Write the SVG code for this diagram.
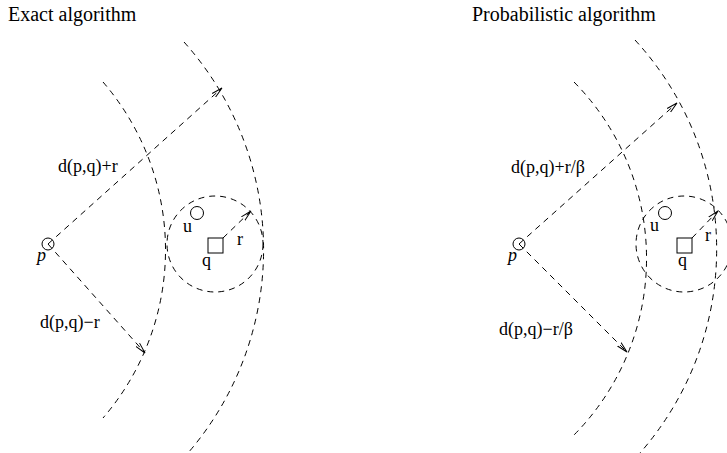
<svg xmlns="http://www.w3.org/2000/svg" width="727" height="453" viewBox="0 0 727 453">
<defs>
<style>
.t{font-family:"Liberation Serif","Times New Roman",serif;font-size:20px;fill:#000}
.l{font-family:"Liberation Serif","Times New Roman",serif;font-size:18px;fill:#000}
.d{fill:none;stroke:#000;stroke-width:1;stroke-dasharray:6 5}
.s{fill:none;stroke:#000;stroke-width:1}
</style>
<marker id="ah" markerWidth="12" markerHeight="8" refX="11" refY="4" orient="auto" markerUnits="userSpaceOnUse">
<path d="M0,1.5 L11,4 L0,6.5" fill="none" stroke="#000" stroke-width="1"/>
</marker>
</defs>
<rect width="727" height="453" fill="#fff"/>
<text class="t" x="8" y="21">Exact algorithm</text>
<text class="t" x="472" y="21">Probabilistic algorithm</text>
<g id="connectors">
<path class="d" d="M103,82 A257,257 0 0 1 103,418"/>
<path class="d" d="M184,42 A311,311 0 0 1 188,453"/>
<path class="d" d="M48,244 L222,88" marker-end="url(#ah)"/>
<path class="d" d="M48,244 L145,353" marker-end="url(#ah)"/>
<path class="d" d="M574,82 A251,251 0 0 1 574,435"/>
<path class="d" d="M635,40 A309,309 0 0 1 640,453"/>
<path class="d" d="M519,244 L677,103" marker-end="url(#ah)"/>
<path class="d" d="M519,244 L627,352" marker-end="url(#ah)"/>
</g>
<g id="left-p">
<circle class="s" cx="48" cy="244" r="6"/>
<text class="l" x="37" y="261" font-style="italic">p</text>
</g>
<g id="left-q">
<circle class="d" cx="215" cy="244" r="48"/>
<rect class="s" x="208" y="238" width="15" height="15"/>
<path class="d" d="M223,238 L251,211" marker-end="url(#ah)"/>
<text class="l" x="202" y="266">q</text>
<text class="l" x="237" y="245">r</text>
</g>
<g id="left-u">
<circle class="s" cx="197" cy="213" r="6.5"/>
<text class="l" x="183" y="232">u</text>
</g>
<g id="left-labels">
<text class="l" x="58" y="172">d(p,q)+r</text>
<text class="l" x="40" y="328">d(p,q)−r</text>
</g>
<g id="right-p">
<circle class="s" cx="519" cy="244" r="6"/>
<text class="l" x="508" y="261" font-style="italic">p</text>
</g>
<g id="right-q">
<circle class="d" cx="684" cy="244" r="48"/>
<rect class="s" x="677" y="238" width="15" height="15"/>
<path class="d" d="M692,238 L718,211" marker-end="url(#ah)"/>
<text class="l" x="678" y="266">q</text>
<text class="l" x="705" y="241">r</text>
</g>
<g id="right-u">
<circle class="s" cx="665" cy="213" r="6.5"/>
<text class="l" x="650" y="231">u</text>
</g>
<g id="right-labels">
<text class="l" x="511" y="173">d(p,q)+r/β</text>
<text class="l" x="499" y="335">d(p,q)−r/β</text>
</g>
</svg>
